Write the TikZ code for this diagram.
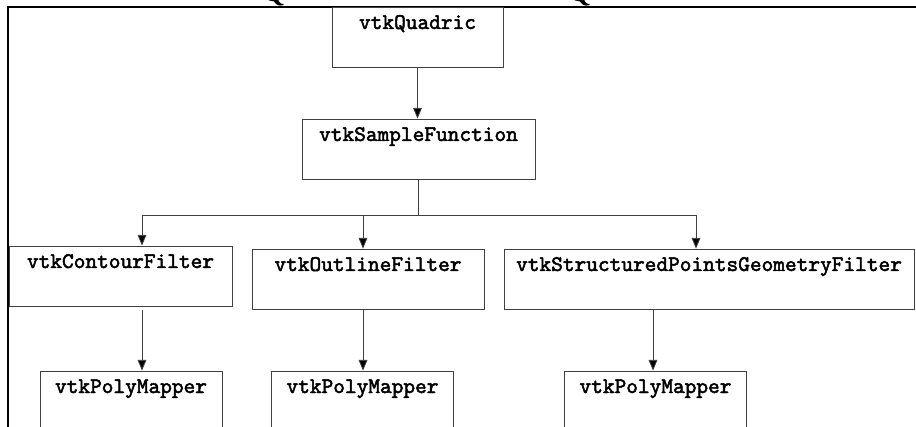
\documentclass[tikz,border=0pt]{standalone}
\usepackage{fontspec}
\setmainfont{Liberation Serif}
\newfontfamily\vtkfont{lmmono10-regular.otf}[FakeBold=2.2]
\usepackage{tikz}
\usetikzlibrary{arrows.meta}

\tikzset{
  vtkbox/.style={draw=black!75, line width=0.6pt, inner sep=0pt,
    font=\fontsize{16.7}{19}\selectfont\vtkfont,
    text height=16.5pt, text depth=28.5pt},
  flow/.style={draw=black!75, line width=0.6pt},
  arr/.style={flow, -{Triangle[length=8pt, width=6.5pt, fill=black]}}
}

\begin{document}
\begin{tikzpicture}[x=0.75pt,y=0.75pt,yscale=-1,xscale=1]
        \clip (0,0) rectangle (916,427);

        % heading letters cut by the page edge
        \node (qa) [anchor=base, inner sep=0pt, font=\fontsize{21}{21}\selectfont\bfseries] at (274,2) {Q};
        \node (qb) [anchor=base, inner sep=0pt, font=\fontsize{21}{21}\selectfont\bfseries] at (580,2) {Q};

        % frame
        \draw [line width=1.6pt] (920,7) -- (8,7) -- (8,440);

        \node (quad)    [vtkbox, minimum width=128.25pt] at (417.5,37)  {vtkQuadric};
        \node (sample)  [vtkbox, minimum width=174.75pt] at (418.5,149) {vtkSampleFunction};

        \node (contour) [vtkbox, minimum width=167.25pt] at (120.5,276) {vtkContourFilter};
        \node (outline) [vtkbox, minimum width=174pt]    at (368,279)   {vtkOutlineFilter};
        \node (spgf)    [vtkbox, minimum width=307.5pt]  at (709,279)   {vtkStructuredPointsGeometryFilter};

        \node (mapA)    [vtkbox, minimum width=136.5pt]  at (131,401)   {vtkPolyMapper};
        \node (mapB)    [vtkbox, minimum width=136.5pt]  at (362.5,401) {vtkPolyMapper};
        \node (mapC)    [vtkbox, minimum width=136.5pt]  at (655.5,401) {vtkPolyMapper};

        \coordinate (hub) at (418.5,215);
        \coordinate (ca)  at (142,215);
        \coordinate (cb)  at (363,215);
        \coordinate (cc)  at (696,215);
        \coordinate (da)  at (142,310);
        \coordinate (db)  at (363,310);
        \coordinate (dc)  at (653,310);

        \draw [arr] (quad.south) -- (quad.south |- sample.north);
        \draw [flow] (sample.south) -- (hub);
        \draw [flow] (ca) -- (cc);
        \draw [arr] (ca) -- (ca |- contour.north);
        \draw [arr] (cb) -- (cb |- outline.north);
        \draw [arr] (cc) -- (cc |- spgf.north);

        \draw [arr] (da) -- (da |- mapA.north);
        \draw [arr] (db) -- (db |- mapB.north);
        \draw [arr] (dc) -- (dc |- mapC.north);

\end{tikzpicture}
\end{document}
